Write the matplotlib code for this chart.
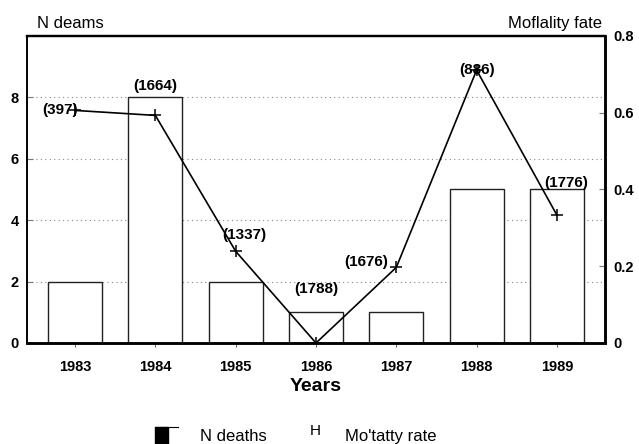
import matplotlib.pyplot as plt
from matplotlib.patches import Rectangle

plt.rcParams["font.family"] = ["Liberation Sans", "DejaVu Sans"]

# ---------------------------------------------------------------------------
# Data
# ---------------------------------------------------------------------------
years = [1983, 1984, 1985, 1986, 1987, 1988, 1989]
n_deaths = [2, 8, 2, 1, 1, 5, 5]
mortality_rate = [0.606, 0.593, 0.239, 0.0, 0.197, 0.711, 0.333]
pop_labels = ["(397)", "(1664)", "(1337)", "(1788)", "(1676)", "(886)", "(1776)"]

x = list(range(len(years)))

fig = plt.figure(figsize=(6.39, 4.44), dpi=100)
ax = fig.add_axes([0.042, 0.2275, 0.905, 0.6915])
ax2 = ax.twinx()

# bars: white fill so the dotted grid disappears behind them
ax.bar(x, n_deaths, width=0.67, facecolor="white", edgecolor="#222222",
       linewidth=1.0, zorder=2)
ax.set_xlim(-0.6, 6.6)
ax.set_ylim(0, 10)
ax.set_yticks([0, 2, 4, 6, 8])
for v in [2, 4, 6, 8]:
    ax.axhline(v, color="#888888", linestyle=(0, (1, 3)), linewidth=0.8, zorder=1)

ax2.plot(x, mortality_rate, color="black", linewidth=1.2, marker="+",
         markersize=8, markeredgewidth=1.1, zorder=3)
ax2.set_ylim(0, 0.8)
ax2.set_yticks([0, 0.2, 0.4, 0.6, 0.8])
ax2.set_yticklabels(["0", "0.2", "0.4", "0.6", "0.8"])

# population labels
lab_kw = dict(fontsize=11, fontweight="bold", textcoords="offset points")
ax2.annotate(pop_labels[0], (x[0], mortality_rate[0]), xytext=(2, 0),
             ha="right", va="center", **lab_kw)
ax.annotate(pop_labels[1], (x[1], n_deaths[1]), xytext=(0, 3),
            ha="center", va="bottom", **lab_kw)
ax2.annotate(pop_labels[2], (x[2], mortality_rate[2]), xytext=(6, 12),
             ha="center", va="center", **lab_kw)
ax.annotate(pop_labels[3], (x[3], n_deaths[3]), xytext=(0, 17),
            ha="center", va="center", **lab_kw)
ax2.annotate(pop_labels[4], (x[4], mortality_rate[4]), xytext=(-6, 4),
             ha="right", va="center", **lab_kw)
ax2.annotate(pop_labels[5], (x[5], mortality_rate[5]), xytext=(0, 0),
             ha="center", va="center", **lab_kw)
ax.annotate(pop_labels[6], (x[6], n_deaths[6]), xytext=(7, 5),
            ha="center", va="center", **lab_kw)

# axes styling
ax.set_xticks(x)
ax.set_xticklabels([str(y) for y in years], fontsize=10.5, fontweight="bold")
ax.tick_params(axis="x", direction="out", length=3, color="#666666", pad=9)
ax.tick_params(axis="y", direction="in", length=4, color="#777777",
               labelsize=10.5, pad=6)
ax2.tick_params(axis="y", direction="in", length=4, color="#777777",
                labelsize=10.5, pad=6)
for lab in ax.get_yticklabels() + ax2.get_yticklabels():
    lab.set_fontweight("bold")

for a in (ax, ax2):
    a.spines["top"].set_linewidth(1.6)
    a.spines["bottom"].set_linewidth(1.8)
    a.spines["left"].set_linewidth(1.2)
    a.spines["right"].set_linewidth(1.8)

ax.set_xlabel("Years", fontsize=14, fontweight="bold", labelpad=3)

fig.text(0.058, 0.948, "N deams", fontsize=12, ha="left", va="center")
fig.text(0.942, 0.948, "Moflality fate", fontsize=12, ha="right", va="center")

# legend drawn by hand to mimic the scanned key
fig.patches.append(Rectangle((0.243, 0.0), 0.02, 0.038, transform=fig.transFigure,
                             facecolor="black", edgecolor="black"))
fig.lines.append(plt.Line2D([0.243, 0.278], [0.038, 0.038], transform=fig.transFigure,
                            color="black", linewidth=0.8))
fig.text(0.313, 0.018, "N deaths", fontsize=12, ha="left", va="center")
fig.text(0.494, 0.03, "H", fontsize=11, ha="center", va="center")
fig.text(0.540, 0.018, "Mo'tatty rate", fontsize=12, ha="left", va="center")

fig.savefig("out.png", dpi=100)
